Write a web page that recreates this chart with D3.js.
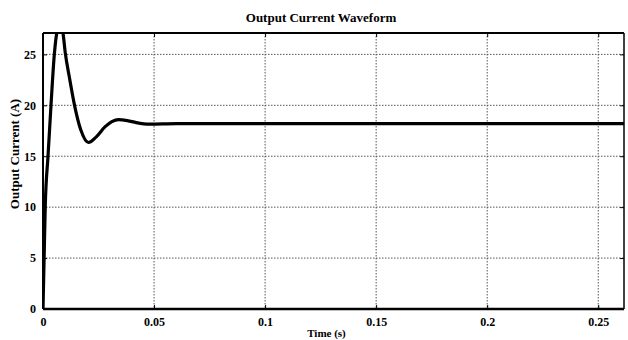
<!DOCTYPE html>
<html>
<head>
<meta charset="utf-8">
<script src="https://cdn.jsdelivr.net/npm/d3@7"></script>
<style>
  body { margin: 0; background: #fff; }
  svg { display: block; }
  text { font-family: "Liberation Serif", "Times New Roman", serif; font-weight: bold; fill: #000; }
</style>
</head>
<body>
<svg id="chart"></svg>
<script>
// waveform samples
const timeS = [0, 0.0003, 0.0006, 0.001, 0.00225, 0.0036, 0.0051, 0.0065, 0.0078, 0.009, 0.010, 0.012, 0.0142,
  0.017, 0.0205, 0.024, 0.028, 0.031, 0.034, 0.038, 0.042, 0.048, 0.06, 0.1, 0.15, 0.2, 0.25, 0.262];
const currentA = [0, 3, 6, 10, 15, 20, 25, 27.4, 27.9, 27.1, 25.2, 22.6, 20,
  17.6, 16.35, 16.9, 17.9, 18.4, 18.6, 18.5, 18.3, 18.15, 18.2, 18.2, 18.2, 18.2, 18.2, 18.2];

const xTicks = [0, 0.05, 0.1, 0.15, 0.2, 0.25];
const xTickLabels = ["0", "0.05", "0.1", "0.15", "0.2", "0.25"];
const yTicks = [0, 5, 10, 15, 20, 25];

const width = 628, height = 340;
const margin = { top: 33, right: 4, bottom: 31, left: 43 };
const w = width - margin.left - margin.right;
const h = height - margin.top - margin.bottom;

const svg = d3.select("#chart").attr("width", width).attr("height", height);

const x = d3.scaleLinear().domain([0, 0.2616]).range([0, w]);
const y = d3.scaleLinear().domain([0, 27.1]).range([h, 0]);

const g = svg.append("g").attr("transform", `translate(${margin.left},${margin.top})`);

g.append("clipPath").attr("id", "clip")
  .append("rect").attr("width", w).attr("height", h);

// dotted grid
g.append("g").selectAll("line").data(xTicks.slice(1))
  .enter().append("line")
  .attr("x1", d => x(d)).attr("x2", d => x(d))
  .attr("y1", 0).attr("y2", h)
  .attr("stroke", "#555").attr("stroke-width", 1).attr("stroke-dasharray", "1.5,1.5");
g.append("g").selectAll("line").data(yTicks.slice(1))
  .enter().append("line")
  .attr("y1", d => y(d)).attr("y2", d => y(d))
  .attr("x1", 0).attr("x2", w)
  .attr("stroke", "#555").attr("stroke-width", 1).attr("stroke-dasharray", "1.5,1.5");

// inward ticks on all four sides
const bottomAxis = d3.axisBottom(x).tickValues(xTicks).tickSizeInner(-4).tickSizeOuter(0).tickFormat((d, i) => xTickLabels[i]);
const gx = g.append("g").attr("transform", `translate(0,${h})`).call(bottomAxis);
gx.select(".domain").remove();
gx.selectAll("text").attr("y", 8).attr("font-size", 12).style("font-family", "Liberation Serif").style("font-weight", "bold");

const leftAxis = d3.axisLeft(y).tickValues(yTicks).tickSizeInner(-4).tickSizeOuter(0);
const gy = g.append("g").call(leftAxis);
gy.select(".domain").remove();
gy.selectAll("text").attr("x", -7).attr("font-size", 12).style("font-family", "Liberation Serif").style("font-weight", "bold");

const gt = g.append("g").call(d3.axisTop(x).tickValues(xTicks).tickSizeInner(-4).tickSizeOuter(0).tickFormat(""));
gt.select(".domain").remove();
const gr = g.append("g").attr("transform", `translate(${w},0)`)
  .call(d3.axisRight(y).tickValues(yTicks).tickSizeInner(-4).tickSizeOuter(0).tickFormat(""));
gr.select(".domain").remove();

// waveform
const line = d3.line()
  .x((d, i) => x(timeS[i]))
  .y(d => y(d))
  .curve(d3.curveMonotoneX);

g.append("path")
  .datum(currentA)
  .attr("clip-path", "url(#clip)")
  .attr("fill", "none")
  .attr("stroke", "#000")
  .attr("stroke-width", 3.2)
  .attr("stroke-linejoin", "round")
  .attr("d", line);

// frame
g.append("line").attr("x1", 0).attr("x2", w).attr("y1", h).attr("y2", h).attr("stroke", "#000").attr("stroke-width", 2.5);
g.append("line").attr("x1", 0).attr("x2", 0).attr("y1", 0).attr("y2", h).attr("stroke", "#000").attr("stroke-width", 2);
g.append("line").attr("x1", 0).attr("x2", w).attr("y1", 0).attr("y2", 0).attr("stroke", "#000").attr("stroke-width", 2);
g.append("line").attr("x1", w).attr("x2", w).attr("y1", 0).attr("y2", h).attr("stroke", "#000").attr("stroke-width", 1.5);

// labels
svg.append("text")
  .attr("x", 321).attr("y", 22)
  .attr("text-anchor", "middle").attr("font-size", 13)
  .text("Output Current Waveform");

svg.append("text")
  .attr("x", margin.left + w / 2 - 7).attr("y", 337)
  .attr("text-anchor", "middle").attr("font-size", 11)
  .text("Time (s)");

svg.append("text")
  .attr("transform", "translate(19,154) rotate(-90)")
  .attr("text-anchor", "middle").attr("font-size", 13)
  .text("Output Current (A)");
</script>
</body>
</html>
